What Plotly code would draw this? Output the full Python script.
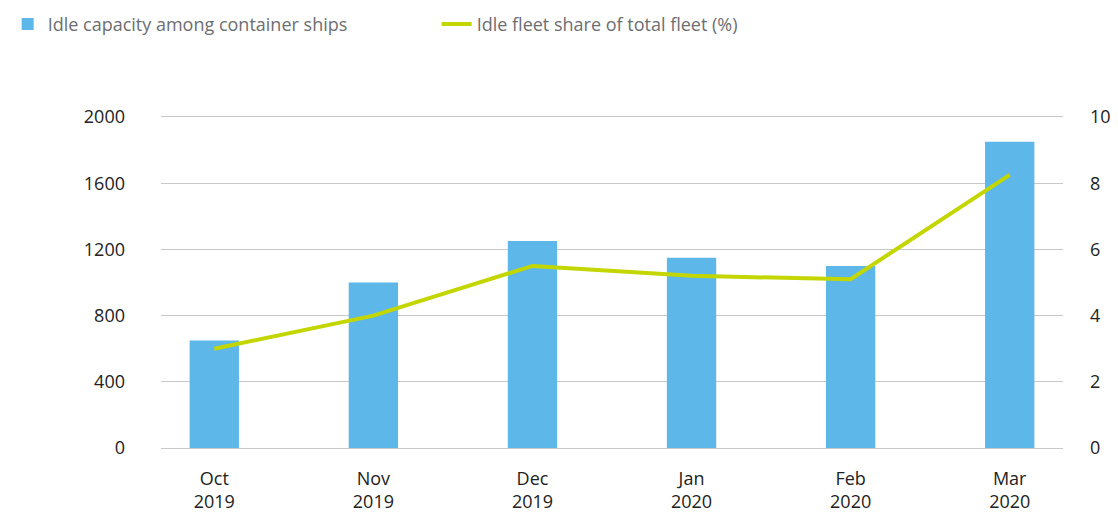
import plotly.graph_objs as go

months = ['Oct<br>2019', 'Nov<br>2019', 'Dec<br>2019', 'Jan<br>2020', 'Feb<br>2020', 'Mar<br>2020']
idle_capacity = [650, 1000, 1250, 1150, 1100, 1850]
idle_share = [3.0, 4.0, 5.5, 5.2, 5.1, 8.25]

font_family = 'Open Sans, Noto Sans, sans-serif'
bar_color = '#5db7e8'
line_color = '#c4d600'
grid_color = '#c8c8c8'

fig = go.Figure()
fig.add_trace(go.Bar(x=months, y=idle_capacity, name='Idle capacity among container ships',
                     marker=dict(color=bar_color, line=dict(width=0)), width=0.31))
fig.add_trace(go.Scatter(x=months, y=idle_share, mode='lines', name='Idle fleet share of total fleet (%)',
                         line=dict(color=line_color, width=4), yaxis='y2'))

# page body has an 8px margin, so the figure is a bit smaller and shifted
fig.update_layout(
    width=1110, height=508,
    margin=dict(l=153, r=55, t=107, b=68, autoexpand=False),
    plot_bgcolor='white', paper_bgcolor='white',
    font=dict(family=font_family, size=18, color='#222222'),
    showlegend=True,
    legend=dict(orientation='h', x=-0.17, y=1.328, xanchor='left', yanchor='top',
                entrywidth=384, font=dict(size=18, color='#6d6e71'), tracegroupgap=0),
    xaxis=dict(range=[-0.335, 5.335], showgrid=False, showline=False, ticks='', zeroline=False,
               automargin=False, ticklabelstandoff=18),
    # range a bit above 2000 so the top grid line is still drawn
    yaxis=dict(range=[0, 2012], tickvals=[0, 400, 800, 1200, 1600, 2000], showgrid=True,
               gridcolor=grid_color, gridwidth=1, zeroline=True, zerolinecolor=grid_color,
               zerolinewidth=1, ticks='', showline=False, automargin=False, ticklabelstandoff=35),
    yaxis2=dict(range=[0, 10.06], tickvals=[0, 2, 4, 6, 8, 10], overlaying='y', side='right',
                showgrid=False, zeroline=False, ticks='', automargin=False, ticklabelstandoff=26),
)

fig.write_html("out.html")
